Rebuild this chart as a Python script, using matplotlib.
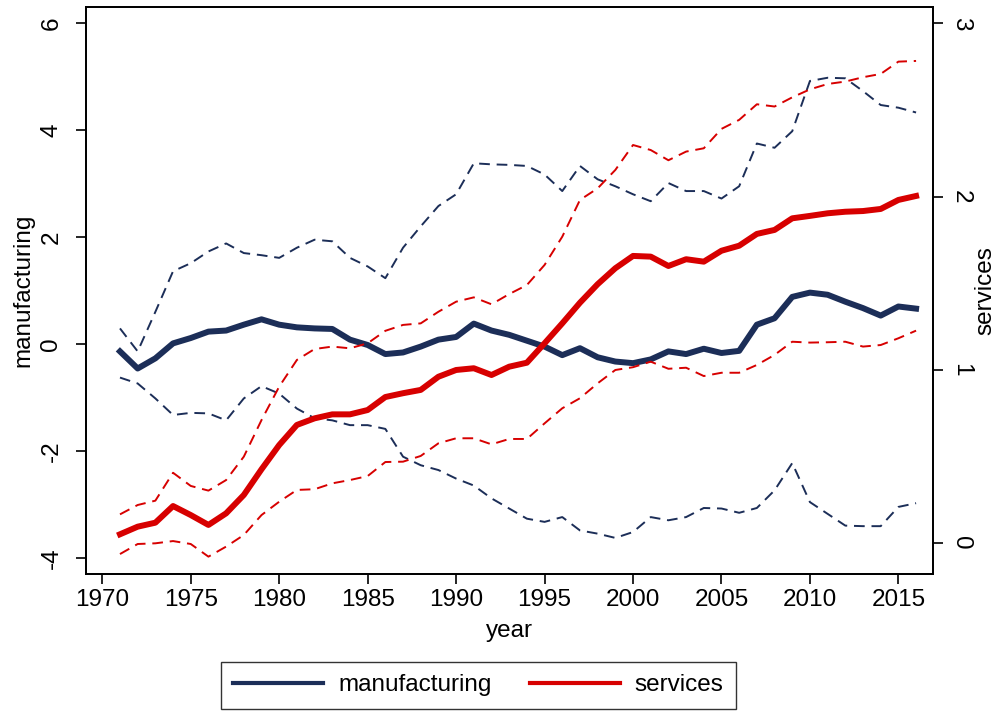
import matplotlib.pyplot as plt

plt.rcParams['font.family'] = ['Liberation Sans', 'DejaVu Sans']
plt.rcParams['axes.unicode_minus'] = False

#%% Datos

year = list(range(1971, 2017))

manuf = [-0.14, -0.46, -0.27, 0.01, 0.11, 0.23, 0.25, 0.36, 0.46, 0.36,
         0.31, 0.29, 0.28, 0.08, -0.02, -0.19, -0.16, -0.05, 0.08, 0.13,
         0.38, 0.25, 0.17, 0.06, -0.05, -0.21, -0.08, -0.25, -0.33, -0.36,
         -0.29, -0.14, -0.19, -0.09, -0.17, -0.13, 0.36, 0.48, 0.88, 0.96,
         0.92, 0.79, 0.67, 0.53, 0.70, 0.66]

manuf_hi = [0.29, -0.14, 0.60, 1.36, 1.51, 1.73, 1.88, 1.70, 1.66, 1.61,
            1.80, 1.95, 1.92, 1.61, 1.45, 1.23, 1.80, 2.20, 2.58, 2.80,
            3.38, 3.36, 3.35, 3.33, 3.17, 2.86, 3.33, 3.08, 2.95, 2.80,
            2.67, 3.01, 2.86, 2.86, 2.72, 2.95, 3.75, 3.67, 3.98, 4.92,
            4.98, 4.97, 4.73, 4.47, 4.42, 4.33]

manuf_lo = [-0.63, -0.74, -1.02, -1.33, -1.29, -1.30, -1.43, -1.02, -0.79, -0.93,
            -1.21, -1.39, -1.43, -1.52, -1.52, -1.59, -2.11, -2.27, -2.36, -2.52,
            -2.65, -2.89, -3.08, -3.27, -3.33, -3.24, -3.49, -3.55, -3.63, -3.52,
            -3.24, -3.30, -3.24, -3.07, -3.08, -3.16, -3.07, -2.74, -2.23, -2.96,
            -3.18, -3.40, -3.41, -3.41, -3.05, -2.98]

serv = [0.052, 0.096, 0.119, 0.215, 0.163, 0.106, 0.173, 0.279, 0.427, 0.567,
        0.683, 0.721, 0.744, 0.744, 0.769, 0.844, 0.866, 0.885, 0.961, 1.000,
        1.010, 0.971, 1.019, 1.042, 1.154, 1.269, 1.388, 1.495, 1.587, 1.658,
        1.654, 1.600, 1.639, 1.625, 1.688, 1.717, 1.785, 1.808, 1.875, 1.889,
        1.904, 1.913, 1.917, 1.929, 1.981, 2.004]

serv_hi = [0.167, 0.221, 0.246, 0.407, 0.331, 0.304, 0.365, 0.500, 0.711, 0.904,
           1.058, 1.121, 1.135, 1.125, 1.154, 1.226, 1.260, 1.269, 1.336, 1.394,
           1.419, 1.379, 1.438, 1.490, 1.606, 1.769, 1.981, 2.048, 2.154, 2.298,
           2.269, 2.210, 2.260, 2.279, 2.391, 2.443, 2.533, 2.520, 2.573, 2.619,
           2.650, 2.664, 2.689, 2.708, 2.779, 2.783]

serv_lo = [-0.062, -0.004, 0.000, 0.013, -0.004, -0.077, -0.019, 0.048, 0.163, 0.240,
           0.308, 0.312, 0.346, 0.365, 0.388, 0.469, 0.471, 0.504, 0.577, 0.606,
           0.606, 0.571, 0.602, 0.602, 0.692, 0.779, 0.837, 0.923, 1.000, 1.016,
           1.048, 1.007, 1.013, 0.965, 0.984, 0.984, 1.029, 1.087, 1.163, 1.158,
           1.160, 1.163, 1.135, 1.144, 1.183, 1.227]

#%% Grafico

navy = '#1c2e58'
red = '#d70000'
fs = 17.5
dash = (0, (5.5, 3.5))

fig = plt.figure(figsize=(9.99, 7.11), dpi=100)
ax = fig.add_axes([0.0861, 0.1927, 0.934 - 0.0861, 0.9906 - 0.1927])

ax.plot(year, manuf_hi, color=navy, lw=1.4, linestyle=dash)
ax.plot(year, manuf_lo, color=navy, lw=1.4, linestyle=dash)
l1, = ax.plot(year, manuf, color=navy, lw=4.3, label='manufacturing', solid_joinstyle='round')

ax.set_xlim(1969.08, 2016.96)
ax.set_ylim(-4.305, 6.31)
ax.set_yticks([-4, -2, 0, 2, 4, 6])
ax.set_xticks(range(1970, 2016, 5))
ax.set_ylabel('manufacturing', fontsize=fs, labelpad=4)
ax.set_xlabel('year', fontsize=fs, labelpad=7)
ax.tick_params(axis='both', labelsize=fs, length=7, width=1.2, direction='out')
ax.tick_params(axis='y', pad=10)
for t in ax.get_yticklabels():
    t.set_rotation(90)
    t.set_va('center')

ax2 = ax.twinx()
ax2.plot(year, serv_hi, color=red, lw=1.4, linestyle=dash)
ax2.plot(year, serv_lo, color=red, lw=1.4, linestyle=dash)
l2, = ax2.plot(year, serv, color=red, lw=4.3, label='services', solid_joinstyle='round')
ax2.set_ylim(-0.177, 3.096)
ax2.set_yticks([0, 1, 2, 3])
ax2.set_ylabel('services', fontsize=fs, rotation=90, labelpad=2)
ax2.tick_params(axis='y', labelsize=fs, length=7, width=1.2, direction='out', pad=5)
for t in ax2.get_yticklabels():
    t.set_rotation(270)
    t.set_va('center')

for a in (ax, ax2):
    for s in a.spines.values():
        s.set_linewidth(1.3)
        s.set_color('black')

leg = fig.legend(handles=[l1, l2], loc='center', bbox_to_anchor=(0.479, 0.036),
                 ncol=2, fontsize=fs, frameon=True, fancybox=False,
                 handlelength=3.7, handletextpad=0.6, columnspacing=1.6,
                 borderpad=0.5, borderaxespad=0.0, edgecolor='black')
leg.get_frame().set_linewidth(1.0)
for h in leg.get_lines():
    h.set_linewidth(3.0)

plt.savefig('out.png', dpi=100)
